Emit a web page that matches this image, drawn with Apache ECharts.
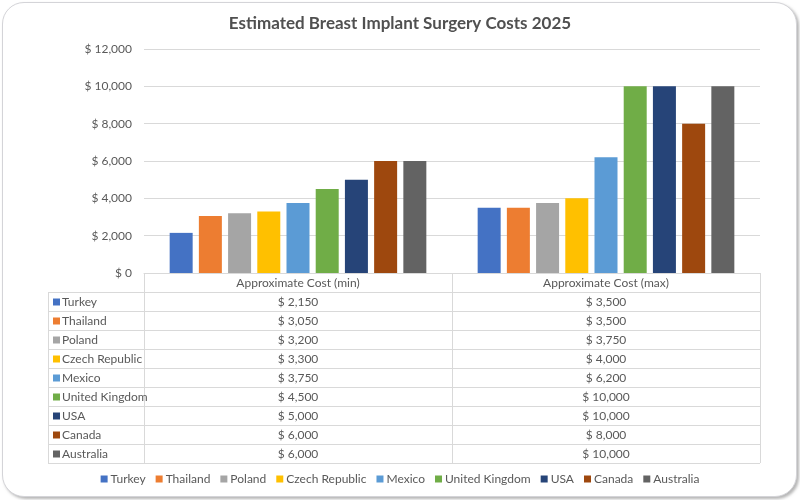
<!DOCTYPE html>
<html>
<head>
<meta charset="utf-8">
<script src="https://cdn.jsdelivr.net/npm/echarts@6/dist/echarts.min.js"></script>
<style>
  html, body { margin: 0; padding: 0; background: #ffffff; }
  #frame { position: absolute; left: 2px; top: 2px; width: 793px; height: 493px;
           border: 1px solid #d4d4d8; border-radius: 22px;
           box-shadow: 2px 2px 3px rgba(120,120,120,0.55); background: #fff; }
  #chart { position: absolute; left: 0; top: 0; width: 800px; height: 500px; }
</style>
</head>
<body>
<div id="frame"></div>
<div id="chart"></div>
<script>
const titleText = 'Estimated Breast Implant Surgery Costs 2025';
const categories = ['Approximate Cost (min)', 'Approximate Cost (max)'];
const countries = ['Turkey', 'Thailand', 'Poland', 'Czech Republic', 'Mexico', 'United Kingdom', 'USA', 'Canada', 'Australia'];
const minCosts = [2150, 3050, 3200, 3300, 3750, 4500, 5000, 6000, 6000];
const maxCosts = [3500, 3500, 3750, 4000, 6200, 10000, 10000, 8000, 10000];
const colors = ['#4472C4', '#ED7D31', '#A5A5A5', '#FFC000', '#5B9BD5', '#70AD47', '#264478', '#9E480E', '#636363'];
const yMax = 12000;
const yInterval = 2000;

const FONT = 'Lato';
const TXT = '#595959';
const LINE = '#d9d9d9';
const FS = 12;
const G = { left: 144, right: 40, top: 49, bottom: 227 };
const W = 800, H = 500;

function money(v) { return '$ ' + v.toLocaleString('en-US'); }

const chart = echarts.init(document.getElementById('chart'), null, { renderer: 'canvas' });

const series = countries.map((c, i) => ({
  name: c,
  type: 'bar',
  data: [minCosts[i], maxCosts[i]],
  barWidth: 23,
  barGap: '27%',
  itemStyle: { color: colors[i] },
  emphasis: { disabled: true }
}));

function buildTable() {
  const els = [];
  const x0 = 48, x1 = G.left, xR = W - G.right;
  const xMid = (x1 + xR) / 2;
  const yTop = H - G.bottom;
  const rowH = 19;
  const hdrBottom = yTop + rowH;
  const yEnd = hdrBottom + countries.length * rowH;
  const ls = { stroke: LINE, lineWidth: 1 };
  [x1, xMid, xR].forEach(x => els.push({ type: 'line', shape: { x1: x + 0.5, y1: yTop, x2: x + 0.5, y2: yEnd }, style: ls, silent: true }));
  els.push({ type: 'line', shape: { x1: x0 + 0.5, y1: hdrBottom, x2: x0 + 0.5, y2: yEnd }, style: ls, silent: true });
  for (let i = 0; i <= countries.length; i++) {
    const y = hdrBottom + i * rowH + 0.5;
    els.push({ type: 'line', shape: { x1: x0, y1: y, x2: xR, y2: y }, style: ls, silent: true });
  }
  const colCenters = [(x1 + xMid) / 2, (xMid + xR) / 2];
  countries.forEach((c, i) => {
    const cy = hdrBottom + i * rowH + rowH / 2 + 0.5;
    els.push({ type: 'rect', shape: { x: 53, y: cy - 3.5, width: 7, height: 7 }, style: { fill: colors[i] }, silent: true });
    els.push({ type: 'text', x: 62, y: cy, style: { text: c, fill: TXT, font: FS + 'px "' + FONT + '"', textAlign: 'left', textVerticalAlign: 'middle' }, silent: true });
    [minCosts[i], maxCosts[i]].forEach((v, j) => {
      els.push({ type: 'text', x: colCenters[j], y: cy, style: { text: money(v), fill: TXT, font: FS + 'px "' + FONT + '"', textAlign: 'center', textVerticalAlign: 'middle' }, silent: true });
    });
  });
  return els;
}

chart.setOption({
  animation: false,
  textStyle: { fontFamily: FONT },
  title: {
    text: titleText, left: 'center', top: 10,
    textStyle: { fontFamily: FONT, fontSize: 17, fontWeight: 'bold', color: '#505050' }
  },
  grid: G,
  legend: {
    bottom: 10, left: 'center', icon: 'rect', itemWidth: 7, itemHeight: 7, itemGap: 10,
    textStyle: { fontFamily: FONT, fontSize: FS, color: TXT, padding: [0, 0, 0, -2] },
    selectedMode: false, data: countries
  },
  xAxis: {
    type: 'category', data: categories,
    axisLine: { lineStyle: { color: LINE } },
    axisTick: { show: false },
    axisLabel: { color: TXT, fontSize: FS, margin: 4, fontFamily: FONT }
  },
  yAxis: {
    type: 'value', min: 0, max: yMax, interval: yInterval,
    axisLine: { show: false }, axisTick: { show: false },
    splitLine: { lineStyle: { color: LINE } },
    axisLabel: { color: TXT, fontSize: FS, margin: 12, fontFamily: FONT, formatter: money }
  },
  series: series,
  graphic: buildTable()
});
</script>
</body>
</html>
